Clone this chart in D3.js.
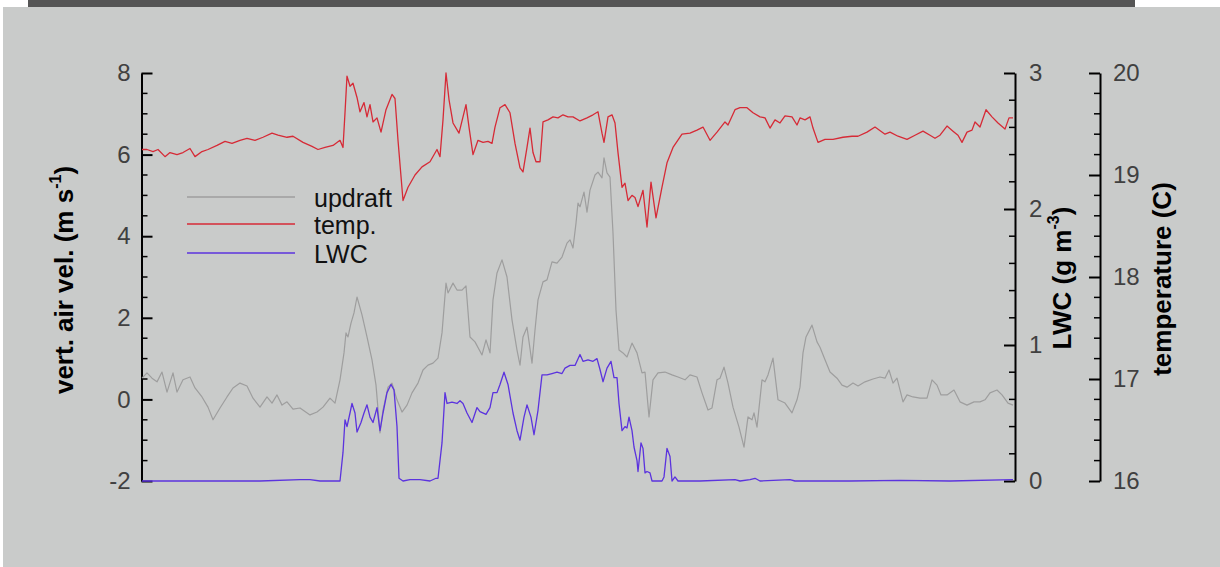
<!DOCTYPE html>
<html>
<head>
<meta charset="utf-8">
<script src="https://cdn.jsdelivr.net/npm/d3@7"></script>
<style>
html,body{margin:0;padding:0;background:#ffffff;}
svg{display:block;}
</style>
</head>
<body>
<script>
// ---------- data (time in s along the flight segment) ----------
const tempTime = [0,1,5,11,16,23,28,35,41,48,53,60,66,75,83,90,98,105,113,121,130,136,145,151,161,170,176,183,191,198,201,203,205,208,211,215,218,222,225,228,231,235,239,244,250,253,256,261,266,273,280,288,295,298,301,304,307,311,317,321,324,327,331,336,341,346,350,353,358,363,368,373,378,381,385,388,391,394,398,401,406,411,416,421,426,431,438,445,451,456,460,462,466,470,473,476,480,483,486,490,493,496,501,505,509,514,520,525,531,540,548,555,561,568,575,583,586,593,598,605,611,618,623,628,633,638,643,650,655,658,663,668,671,676,683,691,701,710,716,725,733,743,748,756,765,773,781,788,793,798,805,811,816,820,825,830,833,838,844,850,856,863,867,871];
const tempValues = [19.25,19.25,19.25,19.23,19.25,19.18,19.22,19.20,19.22,19.26,19.18,19.23,19.25,19.29,19.33,19.31,19.34,19.36,19.34,19.37,19.41,19.39,19.37,19.38,19.32,19.28,19.25,19.27,19.29,19.34,19.27,19.61,19.97,19.87,19.90,19.76,19.62,19.71,19.57,19.69,19.52,19.56,19.42,19.64,19.79,19.75,19.34,18.75,18.88,19.00,19.08,19.13,19.25,19.18,19.54,20.00,19.74,19.51,19.41,19.57,19.69,19.47,19.20,19.34,19.32,19.33,19.31,19.47,19.66,19.69,19.61,19.31,19.07,19.03,19.27,19.46,19.22,19.13,19.13,19.52,19.54,19.57,19.56,19.59,19.57,19.57,19.53,19.56,19.59,19.62,19.41,19.32,19.57,19.59,19.51,19.22,18.88,18.92,18.75,18.80,18.78,18.69,18.85,18.49,18.93,18.58,18.88,19.12,19.27,19.40,19.41,19.44,19.47,19.34,19.42,19.52,19.49,19.64,19.66,19.66,19.61,19.57,19.56,19.46,19.54,19.51,19.58,19.57,19.49,19.56,19.54,19.57,19.46,19.32,19.35,19.35,19.37,19.38,19.38,19.42,19.47,19.40,19.42,19.38,19.35,19.39,19.43,19.39,19.36,19.39,19.48,19.43,19.39,19.32,19.42,19.44,19.52,19.47,19.64,19.57,19.51,19.45,19.56,19.56];

const updraftTime = [0,5,10,15,20,25,31,35,41,48,53,60,66,71,78,85,91,98,105,111,118,125,130,135,140,145,151,158,168,175,181,188,193,198,202,204,206,209,212,215,220,225,230,234,238,241,246,250,255,260,265,270,276,281,286,291,296,300,304,306,311,315,320,324,328,333,340,344,348,351,355,360,365,370,375,378,381,385,390,393,396,401,405,410,415,420,425,428,431,434,436,438,442,445,448,453,456,460,462,465,468,471,474,477,481,485,490,495,500,503,507,511,516,523,530,536,543,548,555,560,566,570,575,578,582,586,591,597,602,606,610,612,615,620,623,626,631,636,643,650,655,658,661,664,670,675,678,683,688,695,700,705,711,716,723,731,738,743,747,751,755,761,765,771,778,785,790,795,799,805,812,818,825,832,838,843,848,855,860,866,871];
const updraftValues = [0.52,0.65,0.52,0.43,0.67,0.18,0.65,0.18,0.48,0.55,0.28,0.06,-0.19,-0.50,-0.21,0.06,0.28,0.40,0.33,0.03,-0.19,0.06,-0.09,0.11,-0.14,-0.06,-0.24,-0.21,-0.38,-0.31,-0.19,0.03,-0.09,0.48,1.14,1.63,1.53,1.87,2.12,2.51,2.07,1.53,0.97,0.35,-0.82,-0.26,0.30,0.40,-0.01,-0.31,-0.14,0.16,0.40,0.72,0.84,0.89,1.01,1.63,2.85,2.61,2.85,2.68,2.68,2.78,1.53,1.41,1.09,1.46,1.14,2.44,3.10,3.42,3.00,1.95,1.21,0.84,1.53,1.77,0.89,1.70,2.44,2.88,2.93,3.37,3.34,3.49,3.83,3.91,3.71,4.32,4.81,4.72,5.08,4.59,5.13,5.50,5.57,5.43,5.92,5.55,5.45,4.08,2.19,1.21,1.14,1.04,1.38,1.14,0.65,0.67,-0.43,0.48,0.65,0.67,0.60,0.55,0.48,0.60,0.55,0.16,-0.26,-0.21,0.48,0.52,0.79,0.40,-0.19,-0.68,-1.17,-0.43,-0.50,-0.33,-0.68,0.48,0.43,0.60,1.01,-0.01,-0.09,-0.33,-0.01,0.30,1.14,1.53,1.82,1.41,1.28,0.97,0.67,0.52,0.35,0.30,0.40,0.33,0.43,0.50,0.55,0.52,0.72,0.40,0.52,-0.06,0.11,0.06,0.03,0.03,0.48,0.35,0.11,0.11,0.23,-0.06,-0.14,-0.06,-0.06,-0.01,0.16,0.23,0.11,-0.09,-0.14];

const lwcTime = [0,58,118,158,168,178,195,198,201,203,205,208,210,213,215,219,222,225,228,231,235,238,241,245,249,252,255,257,261,268,278,288,294,296,300,303,305,310,315,318,321,325,330,335,338,344,348,351,355,358,362,366,371,375,378,382,385,389,392,396,400,405,410,415,420,423,428,433,438,441,446,451,455,458,461,465,469,472,475,477,480,483,485,487,490,492,495,496,499,501,503,505,508,510,515,520,522,525,528,530,533,536,558,593,598,608,613,618,648,653,708,758,808,871];
const lwcValues = [0,0,0,0.01,0.01,0,0,0,0.21,0.45,0.40,0.50,0.57,0.50,0.36,0.43,0.50,0.56,0.47,0.43,0.54,0.37,0.50,0.65,0.71,0.67,0.40,0.02,0,0.01,0.01,0,0.02,0.02,0.28,0.65,0.57,0.58,0.57,0.59,0.57,0.50,0.43,0.54,0.51,0.49,0.54,0.65,0.65,0.71,0.80,0.71,0.50,0.37,0.30,0.47,0.56,0.47,0.34,0.52,0.78,0.78,0.79,0.80,0.79,0.83,0.85,0.85,0.93,0.88,0.89,0.88,0.90,0.82,0.73,0.83,0.88,0.76,0.76,0.57,0.37,0.40,0.39,0.47,0.37,0.25,0.15,0.07,0.28,0.24,0.06,0.07,0.06,0,0,0,0.03,0.24,0.18,0,0.03,0,0,0.01,0,0.01,0.02,0,0.01,0,0,0.005,0,0.01];

const velTicks = [-2,0,2,4,6,8];
const lwcTicks = [0,1,2,3];
const tempTicks = [16,17,18,19,20];
const legendLabels = ["updraft","temp.","LWC"];

// ---------- drawing ----------
const W = 1220, H = 567;
const svg = d3.select("body").append("svg").attr("width", W).attr("height", H);

svg.append("rect").attr("x",0).attr("y",0).attr("width",W).attr("height",H).attr("fill","#ffffff");
svg.append("rect").attr("x",3).attr("y",7).attr("width",W-3).attr("height",H-7).attr("fill","#c9cbca");
svg.append("rect").attr("x",28).attr("y",0).attr("width",1107).attr("height",7).attr("fill","#555555");

const plotTop = 73, plotBottom = 481, plotLeft = 142, plotRight = 1015, tAxisX = 1100;

const x = d3.scaleLinear().domain([0, 873]).range([plotLeft, plotRight]);
const yV = d3.scaleLinear().domain([-2, 8]).range([plotBottom, plotTop]);
const yL = d3.scaleLinear().domain([0, 3]).range([plotBottom, plotTop]);
const yT = d3.scaleLinear().domain([16, 20]).range([plotBottom, plotTop]);

const FONT = "'Liberation Sans', Arial, Helvetica, sans-serif";
const TICKFONT = "'Liberation Sans Narrow', 'Liberation Sans', Arial, sans-serif";
const colors = { updraft: "#9e9e9e", temp: "#d62a36", lwc: "#5b33de" };
const fmt = d => String(d);

function styleAxis(g){
  g.select(".domain").attr("stroke","#000").attr("stroke-width",2);
  g.selectAll(".tick line").attr("stroke","#000").attr("stroke-width",2);
  g.selectAll(".tick text").attr("font-family",TICKFONT).attr("font-size",24)
    .attr("fill","#404040").attr("font-weight","normal");
}
function minorTicks(g, scale, vals, dir, len){
  g.selectAll(".minor").data(vals).enter().append("line")
    .attr("x1",0).attr("x2",dir*len)
    .attr("y1",d=>scale(d)).attr("y2",d=>scale(d))
    .attr("stroke","#000").attr("stroke-width",1.5);
}

// Left axis (vertical air velocity)
const gL = svg.append("g").attr("transform",`translate(${plotLeft-0.5},0)`);
gL.call(d3.axisLeft(yV).tickValues(velTicks).tickSizeInner(-11).tickSizeOuter(0).tickPadding(11).tickFormat(fmt));
styleAxis(gL);
minorTicks(gL, yV, d3.range(-1.5, 8, 0.5).filter(v=>Math.abs(v%2)>1e-6), 1, 6);

// LWC axis
const gR = svg.append("g").attr("transform",`translate(${plotRight},0)`);
gR.call(d3.axisRight(yL).tickValues(lwcTicks).tickSizeInner(-11).tickSizeOuter(0).tickPadding(14).tickFormat(fmt));
styleAxis(gR);
minorTicks(gR, yL, d3.range(0, 3.0001, 0.2).map(v=>+v.toFixed(2)).filter(v=>Math.abs(v-Math.round(v))>1e-6), -1, 6);

// Temperature axis
const gT = svg.append("g").attr("transform",`translate(${tAxisX},0)`);
gT.call(d3.axisRight(yT).tickValues(tempTicks).tickSizeInner(-11).tickSizeOuter(0).tickPadding(13).tickFormat(fmt));
styleAxis(gT);
minorTicks(gT, yT, d3.range(16, 20.0001, 0.2).map(v=>+v.toFixed(2)).filter(v=>Math.abs(v-Math.round(v))>1e-6), -1, 6);

// Axis titles
function title(xc, yc, parts){
  const t = svg.append("text").attr("transform",`translate(${xc},${yc}) rotate(-90)`)
    .attr("text-anchor","middle").attr("dominant-baseline","central")
    .attr("font-family",FONT).attr("font-weight","bold").attr("font-size",26).attr("fill","#000");
  parts.forEach(p=>{
    const s = t.append("tspan").text(p.t);
    if(p.sup){ s.attr("baseline-shift","super").attr("font-size",16); }
  });
}
title(64, 280, [{t:"vert. air vel. (m s"},{t:"-1",sup:true},{t:")"}]);
title(1062, 278, [{t:"LWC (g m"},{t:"-3",sup:true},{t:")"}]);
title(1162, 279, [{t:"temperature (C)"}]);

// Lines
const lineV = d3.line().x((d,i)=>x(updraftTime[i])).y(d=>yV(d));
const lineT = d3.line().x((d,i)=>x(tempTime[i])).y(d=>yT(d));
const lineL = d3.line().x((d,i)=>x(lwcTime[i])).y(d=>yL(d));

svg.append("path").datum(updraftValues).attr("d",lineV).attr("fill","none")
  .attr("stroke",colors.updraft).attr("stroke-width",1.2).attr("stroke-linejoin","round");
svg.append("path").datum(tempValues).attr("d",lineT).attr("fill","none")
  .attr("stroke",colors.temp).attr("stroke-width",1.3).attr("stroke-linejoin","round");
svg.append("path").datum(lwcValues).attr("d",lineL).attr("fill","none")
  .attr("stroke",colors.lwc).attr("stroke-width",1.3).attr("stroke-linejoin","round");

// Legend
const legColors = [colors.updraft, colors.temp, colors.lwc];
const legY = [197, 224, 253];
legendLabels.forEach((lab,i)=>{
  svg.append("line").attr("x1",187).attr("x2",295).attr("y1",legY[i]).attr("y2",legY[i])
    .attr("stroke",legColors[i]).attr("stroke-width",1.6);
  svg.append("text").attr("x",314).attr("y",legY[i]+1).attr("dominant-baseline","central")
    .attr("font-family",FONT).attr("font-size",25).attr("fill","#111").text(lab);
});
</script>
</body>
</html>
